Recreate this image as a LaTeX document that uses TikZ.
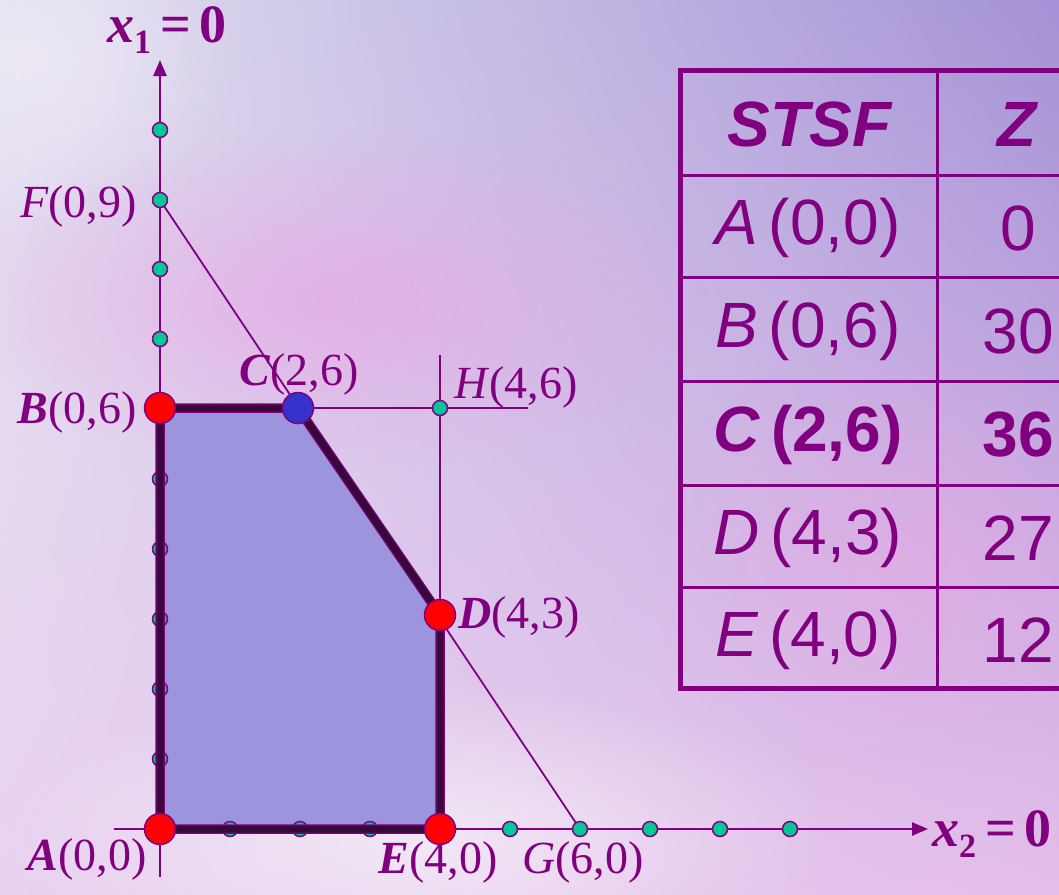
\documentclass[tikz,border=0pt]{standalone}
\usepackage{fontspec}
\setmainfont{Liberation Serif}
\newfontfamily\arialf{Liberation Sans}
\usetikzlibrary{arrows.meta,fadings,shadings}
\tikzfading[name=blobfade,inner color=transparent!0,outer color=transparent!100]
\definecolor{pur}{HTML}{800080}
\definecolor{bgUL}{HTML}{E2E0F0}
\definecolor{bgUR}{HTML}{A492D6}
\definecolor{bgLL}{HTML}{E8D2F0}
\definecolor{bgLR}{HTML}{E4BEEA}
\definecolor{pinkblob}{HTML}{E8A8E4}
\definecolor{whiteblob}{HTML}{F6F0F8}
\definecolor{polyfill}{HTML}{9D94DE}
\definecolor{edgedark}{HTML}{38083A}
\definecolor{greendot}{HTML}{00C896}
\definecolor{reddot}{HTML}{FF0000}
\definecolor{bluedot}{HTML}{3333CC}
\tikzset{
  gdot/.style={circle,fill=greendot,draw=pur,line width=1.5pt,minimum size=15pt,inner sep=0pt},
  rdot/.style={circle,fill=reddot,draw=pur,line width=1.5pt,minimum size=31pt,inner sep=0pt},
  bdot/.style={circle,fill=bluedot,draw=pur,line width=1.5pt,minimum size=31pt,inner sep=0pt},
  thin line/.style={draw=pur,line width=1.8pt},
  axis line/.style={draw=pur,line width=2.5pt,-{Triangle[length=16pt,width=13pt]}},
  edge line/.style={draw=edgedark,line width=7pt,line join=miter},
  lbl/.style={text=pur,inner sep=0pt,font=\fontsize{46}{50}\selectfont},
  axlbl/.style={text=pur,inner sep=0pt,font=\fontsize{54}{58}\selectfont\bfseries},
  tcell/.style={text=pur,inner sep=0pt,font=\arialf\fontsize{64}{68}\selectfont},
  tline/.style={draw=pur,line width=3pt},
}
\begin{document}
\begin{tikzpicture}[x=1pt,y=-1pt]
\useasboundingbox (0,0) rectangle (1059,894);
% background
\shade[upper left=bgUL,upper right=bgUR,lower left=bgLL,lower right=bgLR] (0,0) rectangle (1059,894);
\fill[pinkblob,path fading=blobfade,opacity=0.7] (330,300) ellipse [x radius=380,y radius=170];
\fill[pinkblob,path fading=blobfade,opacity=0.5] (900,560) ellipse [x radius=250,y radius=220];
\fill[whiteblob,path fading=blobfade,opacity=0.8] (420,840) ellipse [x radius=420,y radius=160];
\fill[whiteblob,path fading=blobfade,opacity=0.6] (40,60) ellipse [x radius=200,y radius=160];
% coordinates
\coordinate (A) at (160,829);
\coordinate (B) at (160,408);
\coordinate (C) at (298,408);
\coordinate (D) at (440,615);
\coordinate (E) at (440,829);
\coordinate (F) at (160,200);
\coordinate (G) at (580,829);
\coordinate (H) at (440,408);
\coordinate (Htop) at (440,355);
\coordinate (Hright) at (528,408);
\coordinate (ytop) at (160,60);
\coordinate (ybot) at (160,877);
\coordinate (xleft) at (114,829);
\coordinate (xright) at (928,829);
% feasible region fill
\fill[polyfill] (A) -- (B) -- (C) -- (D) -- (E) -- cycle;
% thin lines
\draw[thin line] (F) -- (G);
\draw[thin line] (Htop) -- (E);
\draw[thin line] (B) -- (Hright);
% axes
\draw[axis line] (ybot) -- (ytop);
\draw[axis line] (xleft) -- (xright);
% dots under edges
\foreach \i/\x in {1/230,2/300,3/370}
  \node[gdot] (xu\i) at (\x,829) {};
\foreach \i/\y in {1/479,2/549,3/619,4/689,5/759}
  \node[gdot] (yu\i) at (160,\y) {};
% thick boundary
\draw[draw=pur,line width=9.5pt,line join=miter] (A) -- (B) -- (C) -- (D) -- (E) -- cycle;
\draw[edge line] (A) -- (B) -- (C) -- (D) -- (E) -- cycle;
% other dots
\foreach \i/\x in {1/510,2/650,3/720,4/790}
  \node[gdot] (xo\i) at (\x,829) {};
\foreach \i/\y in {1/130,2/269,3/339}
  \node[gdot] (yo\i) at (160,\y) {};
\node[gdot] (Fd) at (F) {};
\node[gdot] (Gd) at (G) {};
\node[gdot] (Hd) at (H) {};
\node[rdot] (Ad) at (A) {};
\node[rdot] (Bd) at (B) {};
\node[bdot] (Cd) at (C) {};
\node[rdot] (Dd) at (D) {};
\node[rdot] (Ed) at (E) {};
% labels
\node[axlbl] (lx1) at (167,30) {\textit{x}\raisebox{-11pt}{\fontsize{34}{36}\selectfont 1}\,=\,0};
\node[lbl,anchor=east] (lF) at (137,206) {\textit{F}(0,9)};
\node[lbl,anchor=east] (lB) at (137,412) {\textbf{\textit{B}}(0,6)};
\node[lbl] (lC) at (299,374) {\textbf{\textit{C}}(2,6)};
\node[lbl,anchor=west] (lH) at (454,387) {\textit{H}(4,6)};
\node[lbl,anchor=west] (lD) at (458,617) {\textbf{\textit{D}}(4,3)};
\node[lbl,anchor=east] (lA) at (147,859) {\textbf{\textit{A}}(0,0)};
\node[lbl] (lE) at (438,862) {\textbf{\textit{E}}(4,0)};
\node[lbl] (lG) at (583,862) {\textit{G}(6,0)};
\node[axlbl,anchor=west] (lx2) at (932,834) {\textit{x}\raisebox{-11pt}{\fontsize{34}{36}\selectfont 2}\,=\,0};
% table
\draw[draw=pur,line width=5pt] (680,70) rectangle (1100,688);
\draw[tline] (937,70) -- (937,688);
\foreach \y in {175,277,381,485,587}
  \draw[tline] (680,\y) -- (1100,\y);
\node[tcell] (h1) at (810,124) {\textbf{\textit{STSF}}};
\node[tcell] (h2) at (1018,124) {\textbf{\textit{Z}}};
\node[tcell] (r1a) at (808,228) {\textit{A}\,(0,0)};
\node[tcell] (r1b) at (1018,228) {0};
\node[tcell] (r2a) at (808,331) {\textit{B}\,(0,6)};
\node[tcell] (r2b) at (1018,331) {30};
\node[tcell] (r3a) at (808,435) {\textbf{\textit{C}\,(2,6)}};
\node[tcell] (r3b) at (1018,435) {\textbf{36}};
\node[tcell] (r4a) at (808,538) {\textit{D}\,(4,3)};
\node[tcell] (r4b) at (1018,538) {27};
\node[tcell] (r5a) at (808,640) {\textit{E}\,(4,0)};
\node[tcell] (r5b) at (1018,640) {12};
\end{tikzpicture}
\end{document}
